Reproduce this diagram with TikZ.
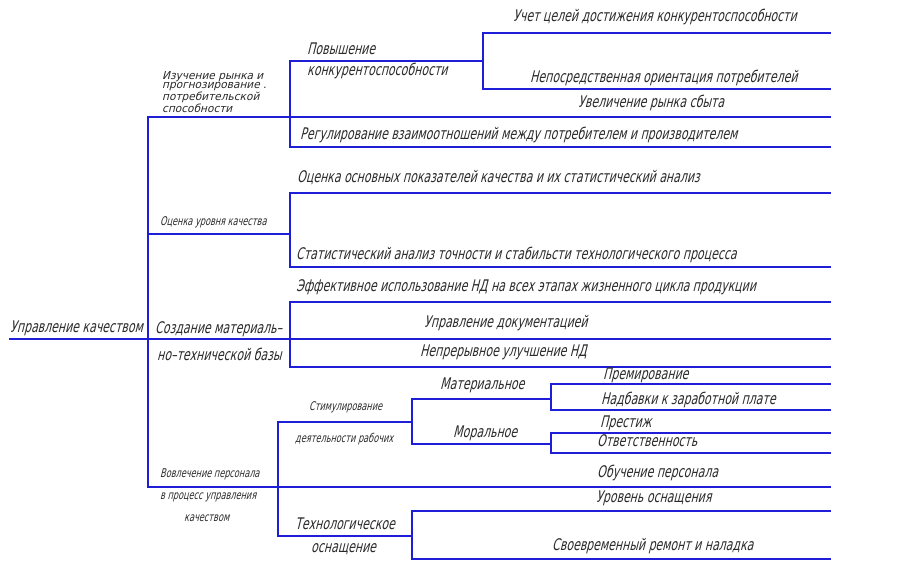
\documentclass[tikz,border=0pt]{standalone}
\usepackage{fontspec}
\usepackage{xcolor}
\usepackage{tikz}
\setmainfont{DejaVu Sans}
\newfontfamily\gost{DejaVu Sans}[FakeSlant=0.25,FakeStretch=0.685]
\newfontfamily\gostn{DejaVu Sans}[FakeSlant=0.25,FakeStretch=0.68]
\newfontfamily\gostw{DejaVu Sans}[FakeSlant=0.25,FakeStretch=0.96]
\definecolor{wire}{HTML}{1E1ED8}
\definecolor{ink}{HTML}{2A2A2A}
\tikzset{
  wire/.style={draw=wire, line width=1.4pt, line cap=rect},
  lab/.style={text=ink, inner sep=0pt, anchor=base west, font=\gost\fontsize{16}{16}\selectfont},
  labs/.style={lab, font=\gostn\fontsize{12}{12}\selectfont},
  labw/.style={text=ink, inner sep=0pt, anchor=north west, align=left, font=\gostw\fontsize{11}{9.5}\selectfont},
}
\begin{document}
\begin{tikzpicture}[x=1pt,y=-1pt]
  \useasboundingbox (0,0) rectangle (916,569);
  \coordinate (rim) at (830,0);

  % trunk
  \coordinate (q0) at (10,339);
  \coordinate (q1) at (148,117);
  \coordinate (q2) at (148,234);
  \coordinate (q3) at (148,339);
  \coordinate (q4) at (148,487);
  \draw[wire] (q1) -- (q4);
  \foreach \p in {q0,q1,q4}{
    \draw[wire] (\p) -- (\p -| rim);
  }

  % market
  \coordinate (m0) at (290,61);
  \coordinate (m1) at (290,147);
  \coordinate (c0) at (483,33);
  \coordinate (c1) at (483,89);
  \draw[wire] (m0) -- (m1);
  \draw[wire] (m0) -- (m0 -| c0);
  \draw[wire] (c0) -- (c1);

  % quality
  \coordinate (e0) at (290,193);
  \coordinate (e1) at (290,267);
  \draw[wire] (q2) -- (q2 -| e0);
  \draw[wire] (e0) -- (e1);

  % base
  \coordinate (b0) at (290,302);
  \coordinate (b1) at (290,367);
  \draw[wire] (b0) -- (b1);

  % staff
  \coordinate (s0) at (278,422);
  \coordinate (s1) at (278,536);
  \coordinate (r0) at (412,399);
  \coordinate (r1) at (412,444);
  \coordinate (k0) at (551,384);
  \coordinate (k1) at (551,410);
  \coordinate (g0) at (551,433);
  \coordinate (g1) at (551,453);
  \coordinate (t0) at (412,511);
  \coordinate (t1) at (412,559);
  \draw[wire] (s0) -- (s1);
  \draw[wire] (s0) -- (s0 -| r0);
  \draw[wire] (r0) -- (r1);
  \draw[wire] (r0) -- (r0 -| k0);
  \draw[wire] (k0) -- (k1);
  \draw[wire] (r1) -- (r1 -| g0);
  \draw[wire] (g0) -- (g1);
  \draw[wire] (s1) -- (s1 -| t0);
  \draw[wire] (t0) -- (t1);

  \foreach \p in {c0,c1,m1,e0,e1,b0,b1,k0,k1,g0,g1,t0,t1}{
    \draw[wire] (\p) -- (\p -| rim);
  }

  % labels
  \node[lab] (root) at (10,333) {Управление качеством};
  \node[labw] (market) at (162,71) {Изучение рынка и\\прогнозирование .\\потребительской\\способности};
  \node[lab] (comp1) at (307,55) {Повышение};
  \node[lab] (comp2) at (307,76) {конкурентоспособности};
  \node[lab] (goals) at (513,22) {Учет целей достижения конкурентоспособности};
  \node[lab] (orient) at (530,83) {Непосредственная ориентация потребителей};
  \node[lab] (sales) at (578,108) {Увеличение рынка сбыта};
  \node[lab] (rel) at (300,140) {Регулирование взаимоотношений между потребителем и производителем};

  \node[labs] (level) at (160,226) {Оценка уровня качества};
  \node[lab] (index) at (297,183) {Оценка основных показателей качества и их статистический анализ};
  \node[lab] (stat) at (296,260) {Статистический анализ точности и стабильсти технологического процесса};

  \node[lab] (base1) at (155,334) {Создание материаль–};
  \node[lab] (base2) at (157,361) {но–технической базы};
  \node[lab] (nd) at (296,292) {Эффективное использование НД на всех этапах жизненного цикла продукции};
  \node[lab] (docs) at (424,328) {Управление документацией};
  \node[lab] (impr) at (420,357) {Непрерывное улучшение НД};

  \node[labs] (staff1) at (160,477) {Вовлечение персонала};
  \node[labs] (staff2) at (160,499) {в процесс управления};
  \node[labs] (staff3) at (184,521) {качеством};
  \node[labs] (stim1) at (309,410) {Стимулирование};
  \node[labs] (stim2) at (295,442) {деятельности рабочих};
  \node[lab] (mat) at (440,389) {Материальное};
  \node[lab] (mor) at (453,437) {Моральное};
  \node[lab] (bonus) at (603,379) {Премирование};
  \node[lab] (extra) at (601,404) {Надбавки к заработной плате};
  \node[lab] (prest) at (600,428) {Престиж};
  \node[lab] (resp) at (597,446) {Ответственность};
  \node[lab] (train) at (597,477) {Обучение персонала};
  \node[lab] (tech1) at (295,529) {Технологическое};
  \node[lab] (tech2) at (311,552) {оснащение};
  \node[lab] (equip) at (596,502) {Уровень оснащения};
  \node[lab] (repair) at (552,550) {Своевременный ремонт и наладка};
\end{tikzpicture}
\end{document}
